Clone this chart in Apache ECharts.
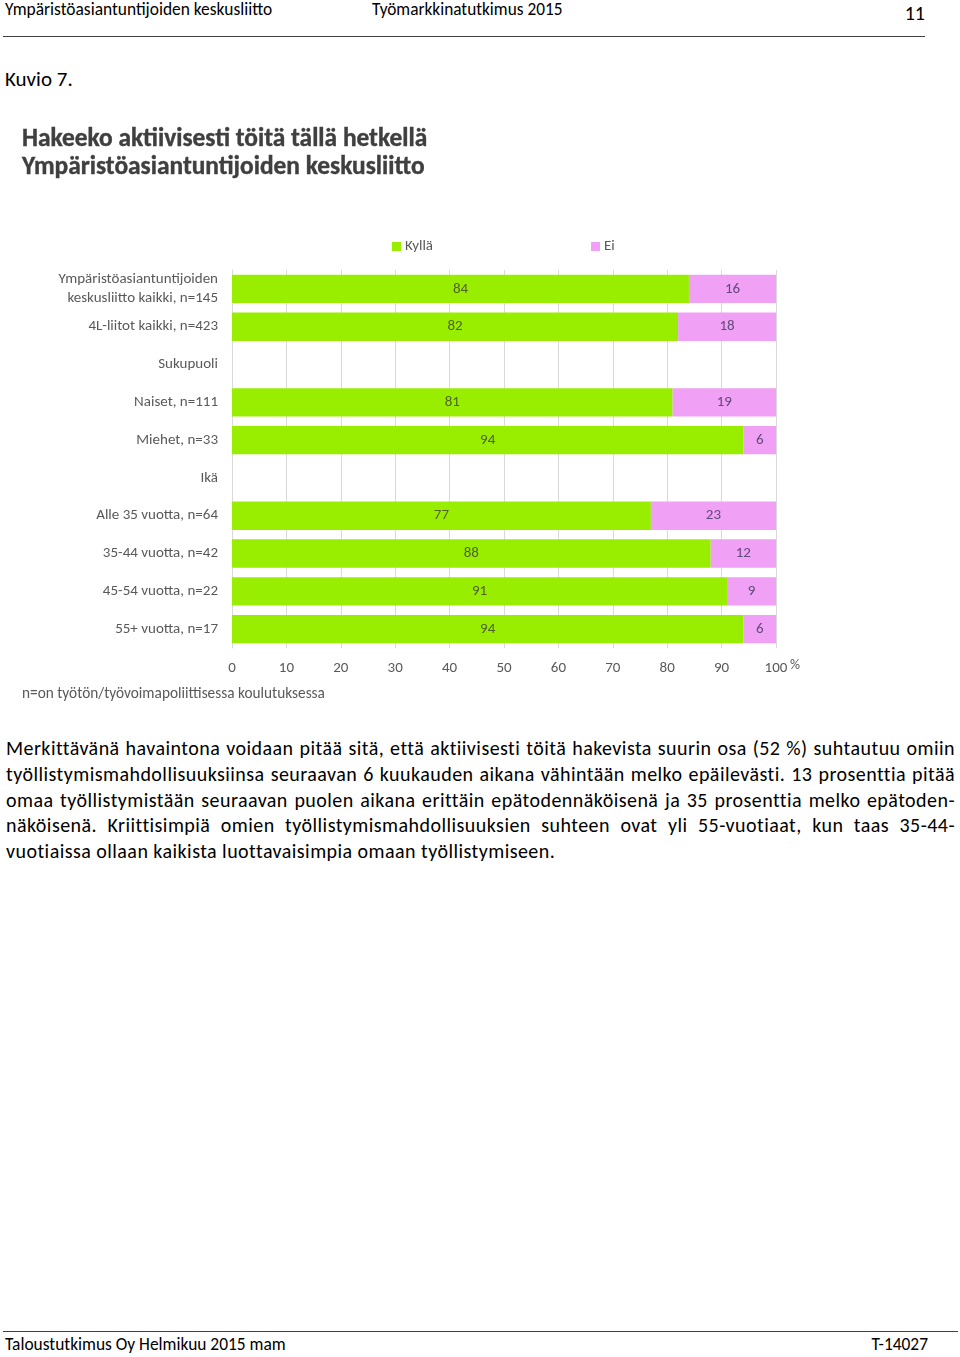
<!DOCTYPE html>
<html>
<head>
<meta charset="utf-8">
<script src="https://cdn.jsdelivr.net/npm/echarts@6/dist/echarts.min.js"></script>
<style>
  html, body { margin:0; padding:0; background:#fff; }
  body { width:960px; height:1357px; position:relative; font-family: Carlito, Lato, "Open Sans", sans-serif; color:#000; overflow:hidden; }
  .abs { position:absolute; white-space:nowrap; }
  .hline { position:absolute; height:1px; background:#404040; }
  #chart { position:absolute; left:0; top:100px; width:960px; height:620px; }
  .para { position:absolute; left:6px; top:736px; width:949px; font-size:20px; letter-spacing:0.45px; line-height:25.8px; }
  .para div { text-align:justify; text-align-last:justify; white-space:normal; }
  .para div.last { text-align-last:left; }
</style>
</head>
<body>
<div class="abs" style="left:5px;top:0px;font-size:17.4px;line-height:19px;">Ympäristöasiantuntijoiden keskusliitto</div>
<div class="abs" style="left:372px;top:0px;font-size:17.3px;line-height:19px;">Työmarkkinatutkimus 2015</div>
<div class="abs" style="right:35px;top:1px;font-size:20px;line-height:24px;">11</div>
<div class="hline" style="left:3px;top:36px;width:922px;"></div>
<div class="abs" style="left:5px;top:67px;font-size:21px;line-height:24px;">Kuvio 7.</div>

<div id="chart"></div>

<div class="para">
  <div>Merkittävänä havaintona voidaan pitää sitä, että aktiivisesti töitä hakevista suurin osa (52 %) suhtautuu omiin</div>
  <div>työllistymismahdollisuuksiinsa seuraavan 6 kuukauden aikana vähintään melko epäilevästi. 13 prosenttia pitää</div>
  <div>omaa työllistymistään seuraavan puolen aikana erittäin epätodennäköisenä ja 35 prosenttia melko epätoden-</div>
  <div>näköisenä. Kriittisimpiä omien työllistymismahdollisuuksien suhteen ovat yli 55-vuotiaat, kun taas 35-44-</div>
  <div class="last">vuotiaissa ollaan kaikista luottavaisimpia omaan työllistymiseen.</div>
</div>

<div class="hline" style="left:3px;top:1331px;width:955px;"></div>
<div class="abs" style="left:5px;top:1335px;font-size:17.4px;line-height:19px;">Taloustutkimus Oy Helmikuu 2015 mam</div>
<div class="abs" style="right:32px;top:1335px;font-size:17.4px;line-height:19px;">T-14027</div>

<script>
const categories = [
  'Ympäristöasiantuntijoiden\nkeskusliitto kaikki, n=145',
  '4L-liitot kaikki, n=423',
  'Sukupuoli',
  'Naiset, n=111',
  'Miehet, n=33',
  'Ikä',
  'Alle 35 vuotta, n=64',
  '35-44 vuotta, n=42',
  '45-54 vuotta, n=22',
  '55+ vuotta, n=17'
];
const kylla = [84, 82, null, 81, 94, null, 77, 88, 91, 94];
const ei = [16, 18, null, 19, 6, null, 23, 12, 9, 6];
const seriesNames = ['Kyllä', 'Ei'];

const FONT = 'Carlito, Lato, "Open Sans", sans-serif';
const chart = echarts.init(document.getElementById('chart'), null, {renderer: 'canvas'});
chart.setOption({
  animation: false,
  textStyle: { fontFamily: FONT },
  title: {
    text: 'Hakeeko aktiivisesti töitä tällä hetkellä\nYmpäristöasiantuntijoiden keskusliitto',
    left: 17, top: 21,
    textStyle: { fontSize: 25.4, fontWeight: 'bold', color: '#3f3f3f', lineHeight: 27.5, fontFamily: FONT, textBorderColor: '#3f3f3f', textBorderWidth: 0.4 }
  },
  legend: {
    data: seriesNames,
    left: 387, top: 134,
    itemWidth: 9, itemHeight: 9, itemGap: 158,
    icon: 'rect',
    textStyle: { fontSize: 15, color: '#595959', padding: [0, 0, 0, -1] }
  },
  grid: { left: 232, right: 184, top: 170, height: 378, containLabel: false },
  xAxis: {
    type: 'value', min: 0, max: 100, interval: 10,
    axisLine: { show: false }, axisTick: { show: false },
    splitLine: { show: true, lineStyle: { color: '#d9d9d9', width: 1 } },
    axisLabel: { fontSize: 15, color: '#595959', margin: 13 }
  },
  yAxis: {
    type: 'category', data: categories, inverse: true,
    axisLine: { show: true, lineStyle: { color: '#d9d9d9' } },
    axisTick: { show: false },
    axisLabel: { fontSize: 15, color: '#595959', margin: 14, lineHeight: 19, align: 'right' }
  },
  graphic: [
    { type: 'text', left: 790, top: 558, style: { text: '%', fontSize: 14, fill: '#595959', fontFamily: FONT } },
    { type: 'text', left: 22, top: 587, style: { text: 'n=on työtön/työvoimapoliittisessa koulutuksessa', fontSize: 15.3, fill: '#595959', fontFamily: FONT } }
  ],
  series: [
    {
      name: seriesNames[0], type: 'bar', stack: 'a', data: kylla,
      barCategoryGap: '25%',
      itemStyle: { color: '#99ee00' },
      label: { show: true, position: 'inside', fontSize: 15, color: '#4f6228' }
    },
    {
      name: seriesNames[1], type: 'bar', stack: 'a', data: ei,
      barCategoryGap: '25%',
      itemStyle: { color: '#f0a0f5' },
      label: { show: true, position: 'inside', fontSize: 15, color: '#60497a' }
    }
  ]
});
</script>
</body>
</html>
